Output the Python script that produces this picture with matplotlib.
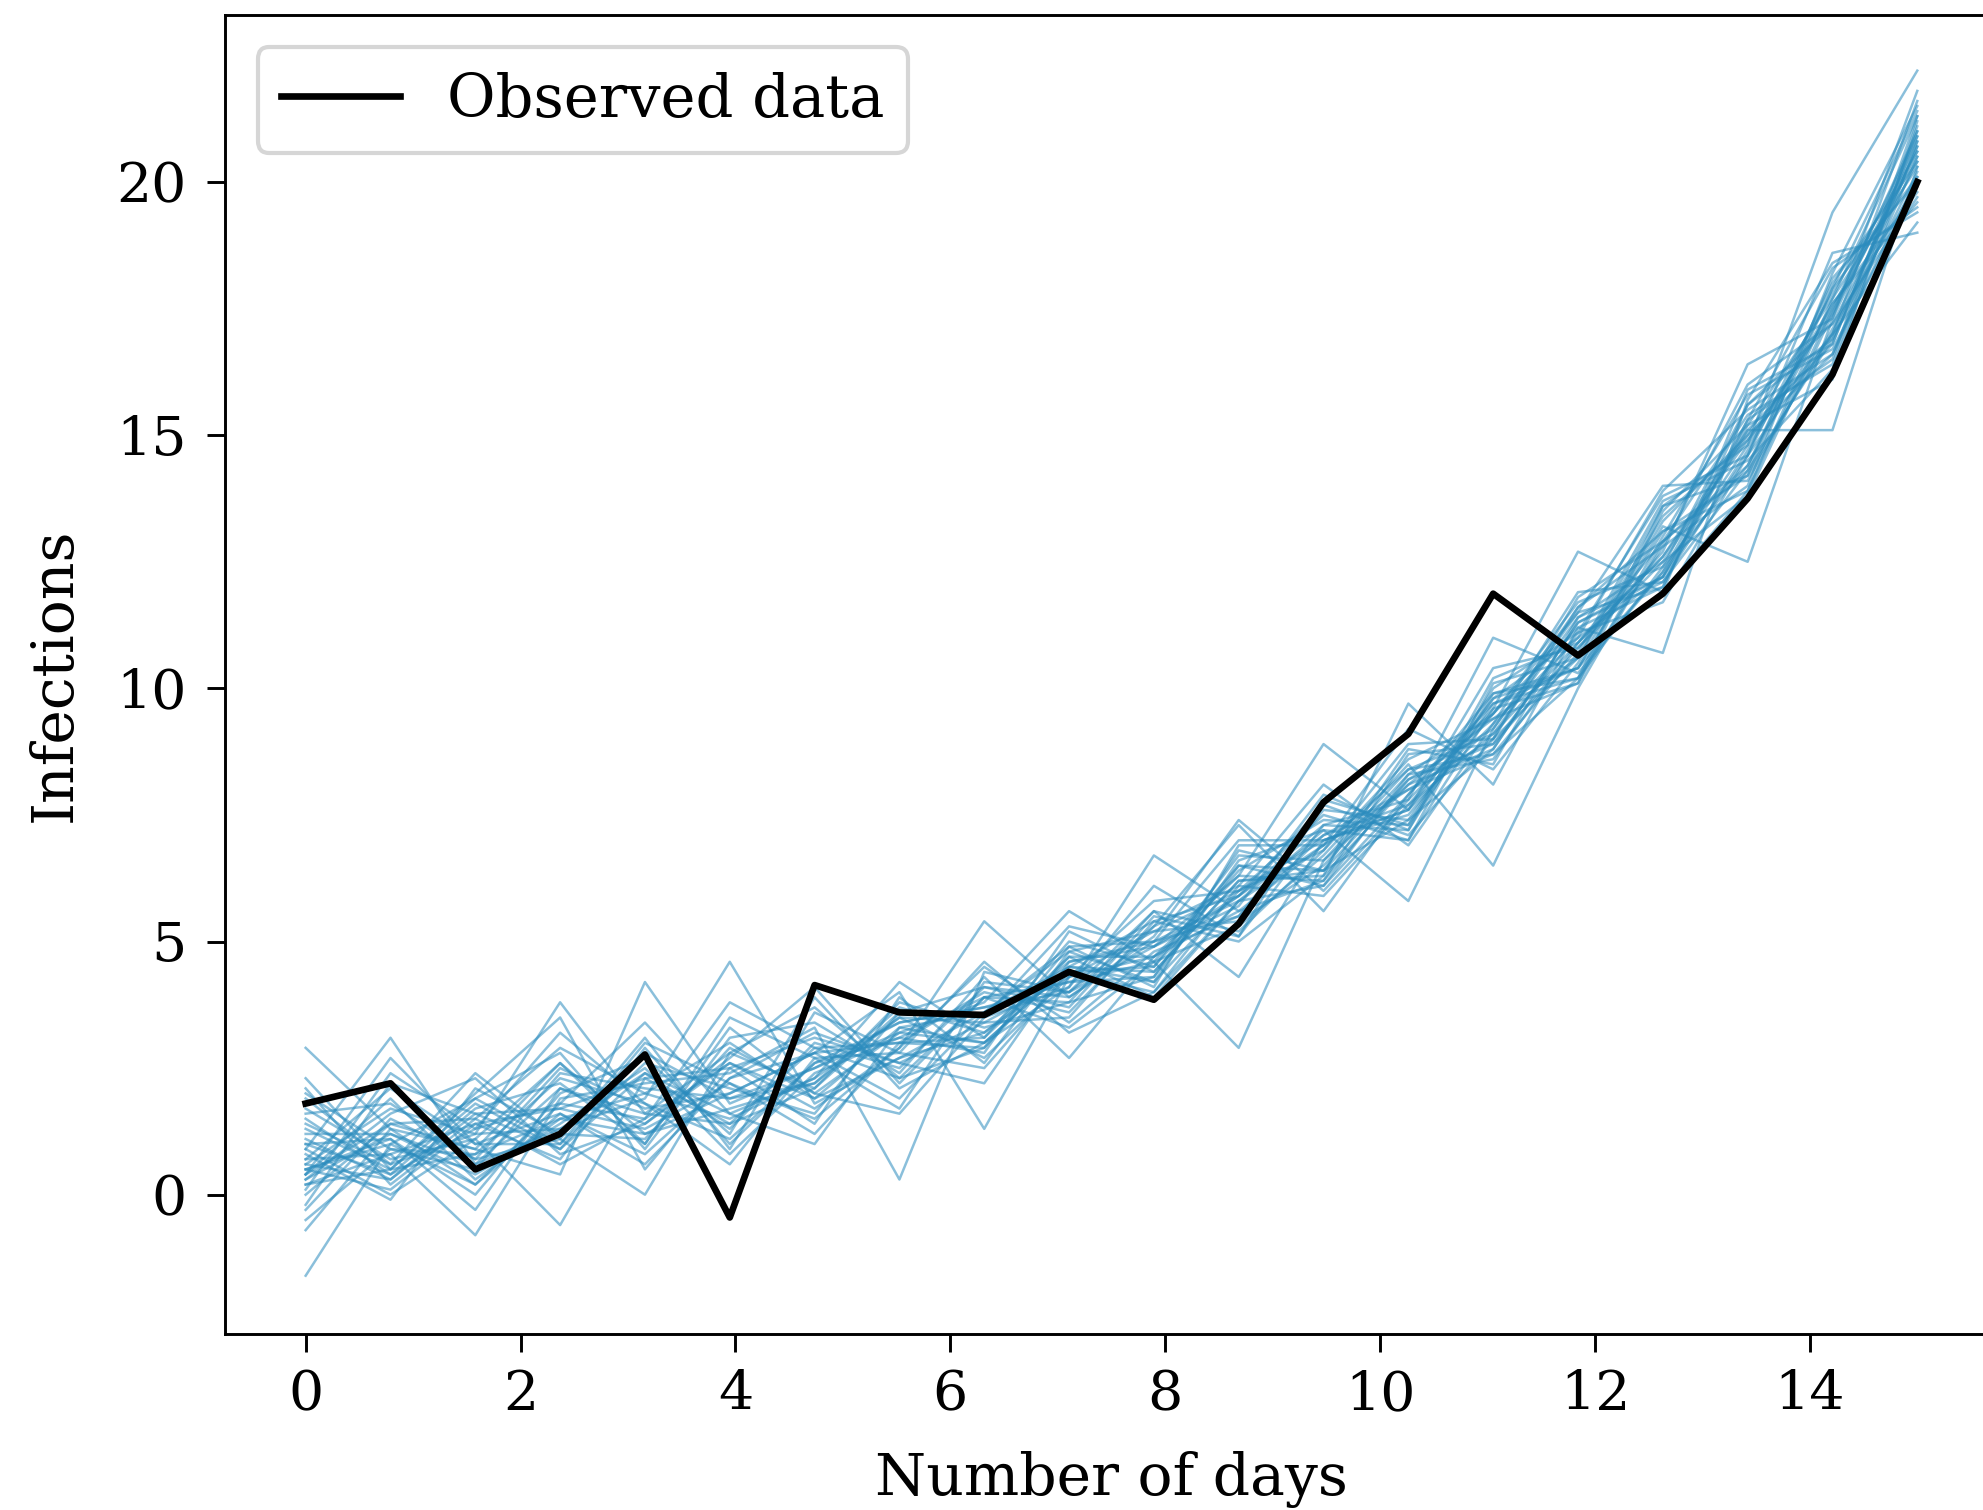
import matplotlib
matplotlib.use("Agg")
import matplotlib.pyplot as plt
import numpy as np

plt.rcParams["font.family"] = "serif"

# days: 20 evenly spaced points between 0 and 15
days = np.linspace(0, 15, 20)

observed = [1.8, 2.2, 0.5, 1.2, 2.77, -0.45, 4.14, 3.6, 3.55, 4.4,
            3.85, 5.35, 7.75, 9.1, 11.87, 10.65, 11.87, 13.75, 16.2, 20.0]

# simulated trajectories (approximate)
sims = [
    [0.3, 1.2, 0.6, 2.1, 1.4, 2.6, 1.9, 3.3, 3.0, 4.5, 4.4, 6.2, 6.3, 8.1, 8.8, 11.3, 12.2, 15.1, 16.8, 20.9],
    [1.5, 0.4, 1.8, 0.9, 2.4, 1.3, 3.0, 2.5, 4.1, 3.7, 5.5, 5.1, 7.3, 7.2, 9.9, 10.4, 13.1, 14.2, 17.9, 20.1],
    [-1.6, 1.0, 0.2, 1.6, 0.8, 2.3, 2.8, 1.9, 3.6, 4.8, 4.2, 6.0, 7.0, 7.5, 9.5, 11.2, 12.0, 15.3, 16.5, 21.3],
    [2.9, 1.3, 0.9, 2.6, 1.2, 1.7, 2.2, 3.5, 2.7, 4.3, 5.2, 5.4, 6.5, 8.3, 8.6, 10.9, 12.9, 14.4, 17.6, 19.6],
    [0.5, 0.1, 1.4, 0.7, 2.9, 1.0, 2.6, 3.1, 3.9, 3.3, 4.6, 6.5, 6.1, 7.9, 9.7, 10.2, 12.4, 15.6, 16.9, 20.7],
    [0.9, 3.1, 0.6, 1.3, 1.9, 4.6, 1.8, 2.7, 3.2, 4.6, 4.9, 5.9, 7.7, 7.1, 9.0, 11.6, 12.8, 14.0, 18.2, 21.5],
    [0.2, 0.8, -0.8, 1.9, 2.2, 2.4, 3.3, 0.3, 4.4, 4.0, 5.6, 5.2, 6.8, 8.6, 9.4, 10.6, 13.4, 14.9, 17.0, 19.2],
    [1.9, 0.6, 2.4, 1.1, 0.0, 2.8, 2.1, 3.8, 3.3, 3.8, 4.3, 6.8, 6.4, 7.4, 9.8, 11.0, 12.2, 15.2, 17.7, 20.3],
    [0.6, 1.7, 1.2, 3.8, 1.6, 1.4, 2.9, 2.3, 2.9, 4.9, 5.0, 5.5, 7.1, 8.0, 8.7, 10.7, 13.7, 14.5, 16.3, 20.8],
    [0.0, 1.4, 0.9, 0.4, 4.2, 1.8, 2.5, 3.4, 3.7, 4.2, 4.6, 2.9, 6.6, 8.4, 9.1, 11.4, 12.5, 13.8, 17.4, 21.0],
    [1.1, 0.3, 1.6, 1.7, 1.3, 2.2, 1.2, 3.0, 4.0, 3.6, 5.3, 6.1, 5.9, 7.7, 9.6, 10.1, 13.0, 15.8, 16.7, 19.9],
    [-0.5, 0.9, 0.8, 2.3, 1.8, 0.6, 2.7, 2.8, 2.5, 4.4, 4.5, 6.4, 7.4, 7.3, 10.0, 11.1, 11.7, 14.6, 18.0, 20.4],
    [0.7, 2.1, 1.0, 1.0, 2.6, 2.1, 1.6, 3.6, 3.5, 4.1, 6.7, 5.6, 6.2, 8.2, 8.9, 10.8, 12.7, 16.4, 17.3, 21.8],
    [1.3, 0.5, 1.9, 2.8, 0.9, 3.1, 3.4, 2.4, 4.3, 2.7, 4.7, 6.3, 8.9, 7.6, 9.3, 11.9, 12.1, 14.3, 16.9, 20.2],
    [0.4, 1.9, 0.3, 1.5, 2.0, 1.5, 2.3, 4.2, 3.1, 4.7, 3.9, 5.8, 6.9, 9.2, 8.4, 10.5, 13.3, 15.0, 17.8, 20.6],
    [2.1, 0.2, 1.5, 0.6, 1.5, 2.6, 1.7, 2.9, 5.4, 3.9, 5.1, 7.4, 6.0, 7.8, 11.0, 10.3, 12.3, 14.8, 19.4, 22.2],
    [0.5, 1.1, 0.0, 2.0, 2.7, 1.2, 3.9, 2.1, 3.0, 4.5, 4.2, 6.6, 7.2, 5.8, 9.2, 11.5, 14.0, 14.1, 17.1, 20.0],
    [0.8, -0.1, 2.1, 1.2, 1.1, 2.9, 2.0, 3.2, 3.8, 5.6, 4.6, 5.3, 6.7, 8.5, 6.5, 10.0, 12.9, 15.4, 16.4, 21.1],
    [-0.3, 1.5, 0.7, 2.5, 1.7, 2.0, 2.8, 4.0, 1.3, 4.3, 5.8, 6.0, 7.5, 7.0, 9.6, 12.7, 11.9, 13.9, 17.5, 20.5],
    [1.7, 0.7, 1.1, -0.6, 2.3, 2.5, 3.1, 2.6, 3.4, 3.5, 5.4, 5.0, 6.3, 9.7, 8.1, 11.2, 10.7, 15.7, 18.4, 19.4],
    [0.1, 2.4, 1.3, 1.8, 3.4, 1.6, 1.0, 3.3, 3.6, 4.9, 4.1, 6.9, 6.9, 8.0, 9.0, 10.6, 13.6, 14.2, 17.0, 21.6],
    [0.6, 0.3, 1.7, 2.2, 1.0, 3.5, 2.7, 1.7, 4.2, 4.0, 4.9, 5.7, 7.9, 7.2, 10.2, 10.9, 12.6, 15.1, 15.1, 20.3],
    [1.2, 1.2, 0.4, 1.4, 2.5, 0.8, 2.4, 3.1, 2.8, 5.2, 4.4, 6.2, 6.4, 8.8, 8.5, 11.4, 12.2, 14.6, 18.6, 19.0],
    [0.3, 1.6, 2.3, 0.8, 1.4, 2.7, 4.1, 2.2, 3.9, 3.8, 5.6, 4.3, 7.0, 7.6, 9.8, 10.4, 13.2, 12.5, 17.3, 20.8],
    [2.0, 0.9, 0.5, 2.4, 2.1, 1.9, 2.2, 3.7, 3.2, 4.4, 4.0, 6.1, 8.1, 6.9, 9.3, 11.0, 13.9, 15.5, 16.6, 20.1],
    [0.4, 2.7, 1.0, 1.6, 0.6, 2.3, 3.2, 2.6, 2.2, 4.6, 5.0, 5.8, 6.1, 8.3, 9.5, 11.7, 12.4, 14.4, 17.9, 21.4],
    [1.0, 0.4, 1.3, 3.2, 1.8, 1.1, 2.6, 3.4, 3.7, 4.0, 5.3, 7.3, 5.6, 7.9, 9.9, 10.2, 12.8, 16.0, 17.2, 20.4],
    [0.5, 1.0, 1.9, 1.0, 3.0, 2.2, 1.5, 2.9, 4.5, 3.4, 4.8, 5.5, 7.6, 7.4, 8.8, 11.3, 12.1, 14.7, 17.6, 19.8],
    [-0.7, 1.3, 0.2, 1.8, 1.5, 3.8, 2.9, 3.0, 3.1, 5.0, 4.5, 6.7, 6.6, 8.1, 9.4, 10.1, 13.5, 15.2, 16.1, 21.2],
    [1.4, 0.6, 1.2, 1.3, 2.4, 1.6, 2.3, 3.5, 3.4, 4.3, 4.7, 5.9, 7.1, 7.7, 9.1, 10.9, 12.6, 14.9, 17.4, 20.6],
    [0.2, 0.5, 2.0, 3.5, 0.5, 2.5, 1.4, 3.9, 2.6, 4.8, 5.2, 6.0, 6.8, 8.9, 9.0, 11.8, 12.9, 14.3, 18.1, 20.0],
    [1.6, 1.8, 0.7, 1.1, 3.1, 0.9, 3.6, 2.8, 4.6, 3.2, 4.0, 5.8, 7.2, 7.0, 10.1, 10.6, 11.9, 15.9, 16.8, 21.0],
    [0.9, 0.0, 1.1, 2.6, 1.0, 3.3, 2.0, 1.6, 3.5, 5.3, 4.9, 6.3, 6.2, 8.7, 8.9, 11.1, 13.8, 14.6, 17.0, 20.7],
    [-0.2, 2.2, 1.6, 0.9, 2.8, 1.9, 2.5, 3.2, 3.0, 4.1, 6.1, 5.1, 7.8, 7.3, 9.7, 10.4, 12.3, 15.3, 18.3, 19.5],
    [1.0, 1.1, -0.3, 2.1, 1.6, 2.8, 3.7, 2.3, 3.9, 4.2, 4.3, 6.5, 6.4, 8.2, 9.2, 11.6, 13.1, 13.9, 17.7, 21.3],
    [0.7, 0.8, 1.4, 1.7, 2.3, 1.4, 2.1, 3.6, 4.1, 3.9, 5.0, 7.0, 7.0, 7.6, 10.4, 10.8, 12.5, 15.0, 16.6, 20.5],
    [2.3, 0.5, 0.8, 1.5, 1.2, 2.0, 2.8, 3.0, 2.9, 4.7, 4.7, 5.6, 6.9, 8.4, 8.7, 10.2, 13.6, 14.8, 17.5, 20.9],
    [0.4, 1.4, 1.5, 2.9, 2.0, 3.0, 1.9, 2.7, 3.6, 4.5, 5.4, 5.9, 7.3, 7.8, 9.5, 11.5, 12.0, 15.6, 17.2, 19.7],
]

fig = plt.figure(figsize=(1983 / 300, 1510 / 300), dpi=300)
ax = fig.add_axes([0.1135, 0.1166, 0.894, 0.8735])

for s in sims:
    ax.plot(days, s, color="#2b8cbe", alpha=0.55, lw=0.6)
ax.plot(days, observed, color="black", lw=1.6, label="Observed data")

ax.set_xlim(-0.75, 15.75)
ax.set_ylim(-2.75, 23.3)
ax.set_xticks([0, 2, 4, 6, 8, 10, 12, 14])
ax.set_yticks([0, 5, 10, 15, 20])
ax.tick_params(labelsize=13.3, length=4.3, width=0.7)
ax.tick_params(axis="x", pad=4.2)
ax.tick_params(axis="y", pad=5)
for sp in ax.spines.values():
    sp.set_linewidth(0.7)

ax.set_xlabel("Number of days", fontsize=14, labelpad=7)
ax.set_ylabel("Infections", fontsize=14, labelpad=8)
ax.legend(loc="upper left", fontsize=14.2, borderaxespad=0.55)

fig.savefig("out.png", dpi=300)
